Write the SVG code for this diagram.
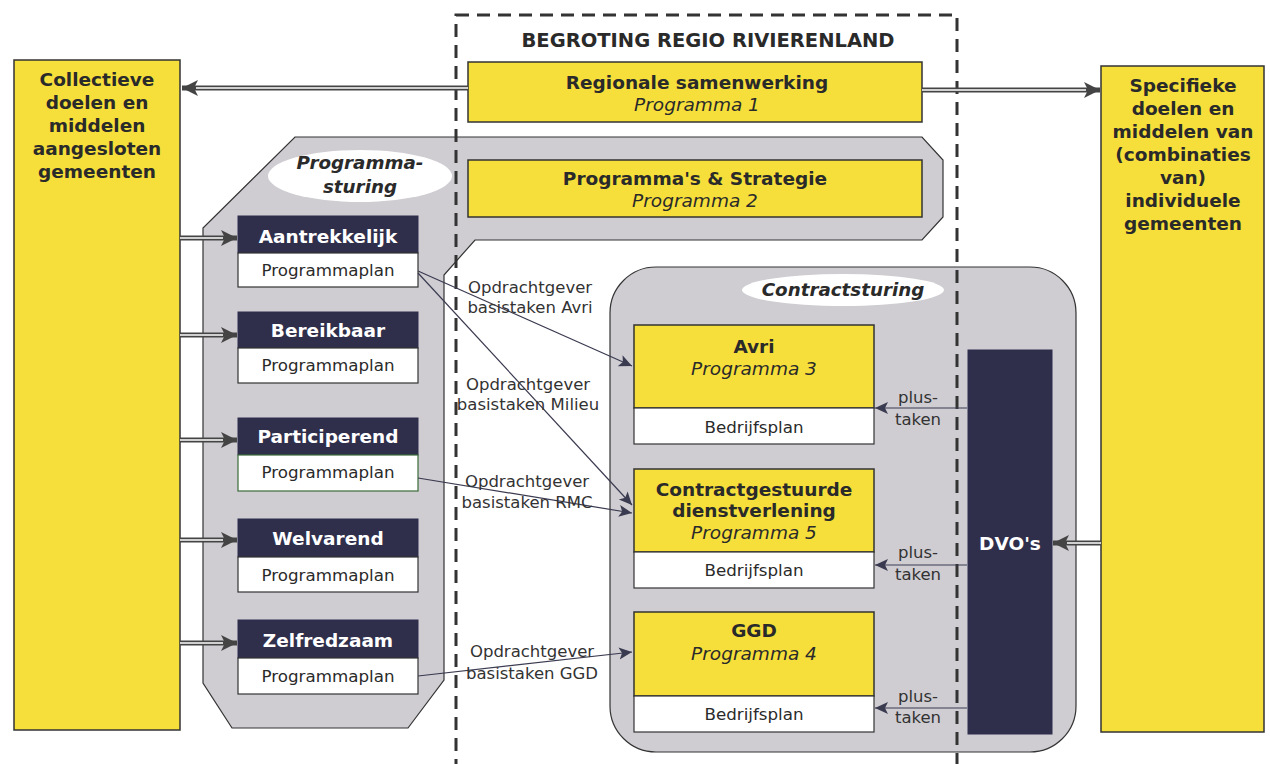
<svg xmlns="http://www.w3.org/2000/svg" width="1270" height="764" viewBox="0 0 1270 764">
<style>
text{font-family:"DejaVu Sans","Liberation Sans",sans-serif;text-anchor:middle;fill:#2a2a2a}
.b{font-weight:bold;font-size:18.5px}
.t{font-weight:bold;font-size:19.5px}
.i{font-style:italic;font-size:18.5px}
.bi{font-weight:bold;font-style:italic;font-size:18.3px}
.w{fill:#ffffff}
.r{font-size:16.7px}
.lbl{font-size:16.5px;fill:#333}
.yel{fill:#f6df3a;stroke:#333;stroke-width:1.5}
.hdr{fill:#2f2f4c;stroke:#2f2f4c;stroke-width:1}
.wht{fill:#ffffff;stroke:#333;stroke-width:1.2}
.gray{fill:#cfcdd2;stroke:#333;stroke-width:1.2}
.ell{fill:#ffffff;stroke:none}
.dbl{stroke:#444;stroke-width:5;fill:none}
.dbli{stroke:#ffffff;stroke-width:1.5;fill:none}
.thin{stroke:#3a3a50;stroke-width:1.2;fill:none}
.dash{fill:none;stroke:#333;stroke-width:3;stroke-dasharray:13 8}
</style>
<defs>
<marker id="bigArrow" markerUnits="userSpaceOnUse" markerWidth="18" markerHeight="18" refX="16" refY="9" orient="auto">
<path d="M0,1 L16,9 L0,17 L4,9 Z" fill="#444"/>
</marker>
<marker id="smallArrow" markerUnits="userSpaceOnUse" markerWidth="14" markerHeight="14" refX="13" refY="7" orient="auto">
<path d="M0,1 L13,7 L0,13 L3,7 Z" fill="#3a3a50"/>
</marker>
</defs>
<rect width="1270" height="764" fill="#ffffff"/>

<g id="programmasturing-area">
<polygon class="gray" points="295,137 922,137 943,160 943,217 922,240 475,240 444,275 444,680 408,728 232,728 203,683 203,228"/>
<ellipse class="ell" cx="360" cy="176" rx="92" ry="26"/>
<text class="bi" x="360" y="169">Programma-</text>
<text class="bi" x="360" y="193">sturing</text>
</g>

<g id="contractsturing-area">
<rect class="gray" x="610" y="267" width="466" height="485" rx="46" ry="46"/>
<ellipse class="ell" cx="843" cy="290" rx="101" ry="16"/>
<text class="bi" x="843" y="296">Contractsturing</text>
</g>

<g id="begroting-frame">
<rect class="dash" x="456" y="15" width="501" height="770"/>
<text class="t" x="708" y="47">BEGROTING REGIO RIVIERENLAND</text>
</g>

<g id="collectieve">
<rect class="yel" x="14" y="60" width="166" height="670"/>
<text class="b" x="97" y="86">Collectieve</text>
<text class="b" x="97" y="109">doelen en</text>
<text class="b" x="97" y="132">middelen</text>
<text class="b" x="97" y="155">aangesloten</text>
<text class="b" x="97" y="178">gemeenten</text>
</g>

<g id="specifieke">
<rect class="yel" x="1101" y="66" width="163" height="666"/>
<text class="b" x="1183" y="92">Specifieke</text>
<text class="b" x="1183" y="115">doelen en</text>
<text class="b" x="1183" y="138">middelen van</text>
<text class="b" x="1183" y="161">(combinaties</text>
<text class="b" x="1183" y="184">van)</text>
<text class="b" x="1183" y="207">individuele</text>
<text class="b" x="1183" y="230">gemeenten</text>
</g>

<g id="programma1">
<rect class="yel" x="468" y="62" width="454" height="60"/>
<text class="b" x="697" y="89">Regionale samenwerking</text>
<text class="i" x="697" y="111">Programma 1</text>
</g>

<g id="programma2">
<rect class="yel" x="468" y="160" width="454" height="57"/>
<text class="b" x="695" y="185">Programma's &amp; Strategie</text>
<text class="i" x="695" y="207">Programma 2</text>
</g>

<g id="aantrekkelijk">
<rect class="hdr" x="238" y="216" width="180" height="37"/>
<rect class="wht" x="238" y="253" width="180" height="34"/>
<text class="b w" x="328" y="243">Aantrekkelijk</text>
<text class="r" x="328" y="276">Programmaplan</text>
</g>

<g id="bereikbaar">
<rect class="hdr" x="238" y="312" width="180" height="36"/>
<rect class="wht" x="238" y="348" width="180" height="35"/>
<text class="b w" x="328" y="337">Bereikbaar</text>
<text class="r" x="328" y="371">Programmaplan</text>
</g>

<g id="participerend">
<rect class="hdr" x="238" y="418" width="180" height="37"/>
<rect class="wht" x="238" y="455" width="180" height="36" style="stroke:#3a6a3a"/>
<text class="b w" x="328" y="443">Participerend</text>
<text class="r" x="328" y="478">Programmaplan</text>
</g>

<g id="welvarend">
<rect class="hdr" x="238" y="519" width="180" height="38"/>
<rect class="wht" x="238" y="557" width="180" height="35"/>
<text class="b w" x="328" y="545">Welvarend</text>
<text class="r" x="328" y="581">Programmaplan</text>
</g>

<g id="zelfredzaam">
<rect class="hdr" x="238" y="620" width="180" height="38"/>
<rect class="wht" x="238" y="658" width="180" height="36"/>
<text class="b w" x="328" y="647">Zelfredzaam</text>
<text class="r" x="328" y="682">Programmaplan</text>
</g>

<g id="avri">
<rect class="yel" x="634" y="325" width="240" height="83"/>
<rect class="wht" x="634" y="408" width="240" height="36"/>
<text class="b" x="754" y="353">Avri</text>
<text class="i" x="754" y="375">Programma 3</text>
<text class="r" x="754" y="433">Bedrijfsplan</text>
</g>

<g id="contractgestuurde">
<rect class="yel" x="634" y="469" width="240" height="83"/>
<rect class="wht" x="634" y="552" width="240" height="36"/>
<text class="b" x="754" y="496">Contractgestuurde</text>
<text class="b" x="754" y="517">dienstverlening</text>
<text class="i" x="754" y="539">Programma 5</text>
<text class="r" x="754" y="576">Bedrijfsplan</text>
</g>

<g id="ggd">
<rect class="yel" x="634" y="612" width="240" height="84"/>
<rect class="wht" x="634" y="696" width="240" height="36"/>
<text class="b" x="754" y="637">GGD</text>
<text class="i" x="754" y="660">Programma 4</text>
<text class="r" x="754" y="720">Bedrijfsplan</text>
</g>

<g id="dvos">
<rect class="hdr" x="968" y="350" width="84" height="384"/>
<text class="b w" x="1010" y="550">DVO's</text>
</g>

<g id="connectors">
<line class="dbl" x1="468" y1="88" x2="182" y2="88" marker-end="url(#bigArrow)"/>
<line class="dbli" x1="468" y1="88" x2="196" y2="88"/>
<line class="dbl" x1="922" y1="90" x2="1100" y2="90" marker-end="url(#bigArrow)"/>
<line class="dbli" x1="922" y1="90" x2="1086" y2="90"/>
<line class="dbl" x1="180" y1="238" x2="237" y2="238" marker-end="url(#bigArrow)"/>
<line class="dbli" x1="180" y1="238" x2="223" y2="238"/>
<line class="dbl" x1="180" y1="335" x2="237" y2="335" marker-end="url(#bigArrow)"/>
<line class="dbli" x1="180" y1="335" x2="223" y2="335"/>
<line class="dbl" x1="180" y1="440" x2="237" y2="440" marker-end="url(#bigArrow)"/>
<line class="dbli" x1="180" y1="440" x2="223" y2="440"/>
<line class="dbl" x1="180" y1="540" x2="237" y2="540" marker-end="url(#bigArrow)"/>
<line class="dbli" x1="180" y1="540" x2="223" y2="540"/>
<line class="dbl" x1="180" y1="643" x2="237" y2="643" marker-end="url(#bigArrow)"/>
<line class="dbli" x1="180" y1="643" x2="223" y2="643"/>
<line class="dbl" x1="1101" y1="543" x2="1053" y2="543" marker-end="url(#bigArrow)"/>
<line class="dbli" x1="1101" y1="543" x2="1067" y2="543"/>

<line class="thin" x1="418" y1="271" x2="632" y2="366" marker-end="url(#smallArrow)"/>
<line class="thin" x1="418" y1="273" x2="632" y2="505" marker-end="url(#smallArrow)"/>
<line class="thin" x1="418" y1="478" x2="632" y2="513" marker-end="url(#smallArrow)"/>
<line class="thin" x1="418" y1="676" x2="632" y2="652" marker-end="url(#smallArrow)"/>

<line class="thin" x1="967" y1="408" x2="875" y2="408" marker-end="url(#smallArrow)"/>
<line class="thin" x1="967" y1="565" x2="875" y2="565" marker-end="url(#smallArrow)"/>
<line class="thin" x1="967" y1="708" x2="875" y2="708" marker-end="url(#smallArrow)"/>

<text class="lbl" x="530" y="293">Opdrachtgever</text>
<text class="lbl" x="530" y="313">basistaken Avri</text>
<text class="lbl" x="528" y="390">Opdrachtgever</text>
<text class="lbl" x="528" y="410">basistaken Milieu</text>
<text class="lbl" x="527" y="487">Opdrachtgever</text>
<text class="lbl" x="527" y="508">basistaken RMC</text>
<text class="lbl" x="532" y="657">Opdrachtgever</text>
<text class="lbl" x="532" y="679">basistaken GGD</text>

<text class="lbl" x="918" y="403">plus-</text>
<text class="lbl" x="918" y="425">taken</text>
<text class="lbl" x="918" y="558">plus-</text>
<text class="lbl" x="918" y="580">taken</text>
<text class="lbl" x="918" y="702">plus-</text>
<text class="lbl" x="918" y="723">taken</text>
</g>
</svg>
